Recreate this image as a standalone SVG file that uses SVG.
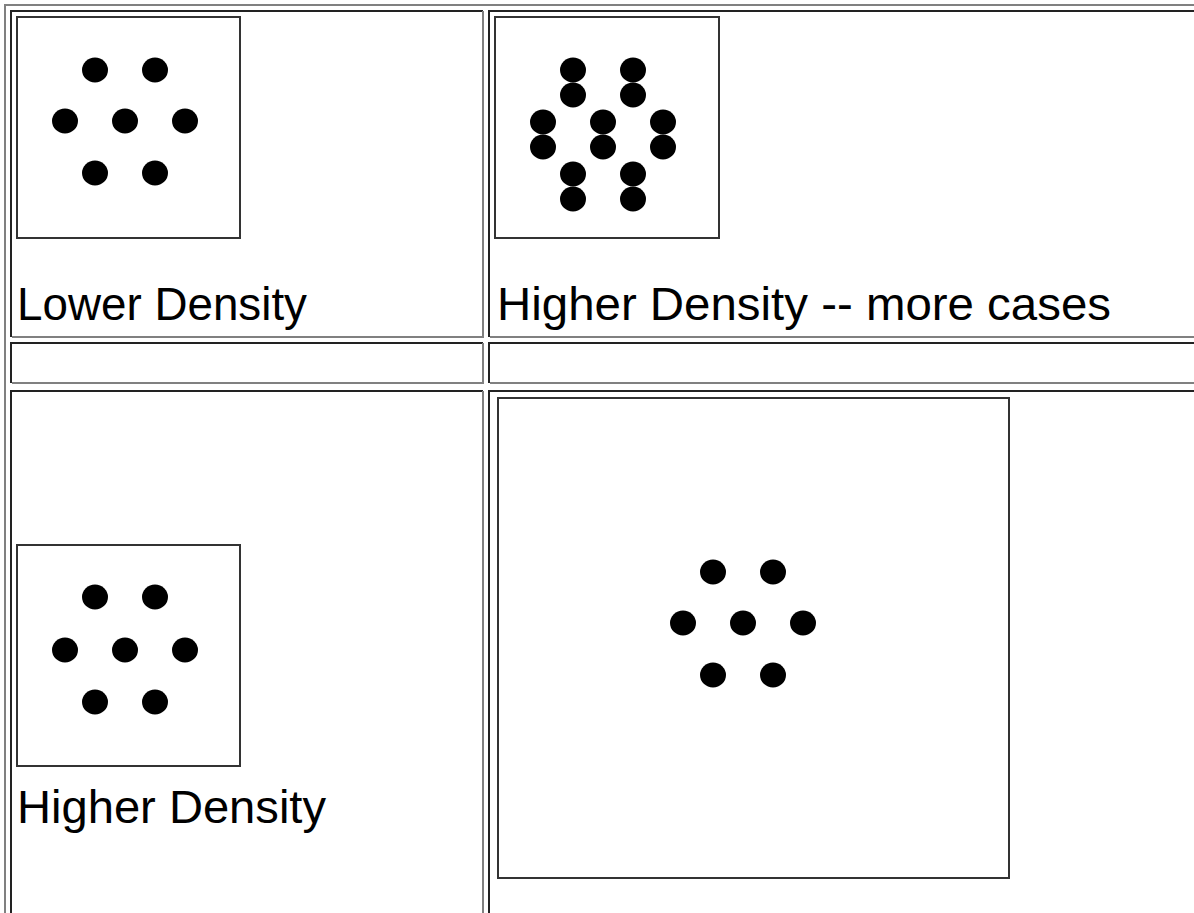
<svg xmlns="http://www.w3.org/2000/svg" width="1194" height="913" viewBox="0 0 1194 913">
<style>
.dark{stroke:#222;stroke-width:2;fill:none}
.gray{stroke:#808080;stroke-width:2;fill:none}
.box{stroke:#333;stroke-width:2;fill:#fff}
.dot{fill:#000}
.lbl{font-family:"Liberation Sans",Arial,sans-serif;font-size:47px;fill:#000}
</style>
<rect width="1194" height="913" fill="#fff"/>
<g id="table">
<path class="gray" d="M5,913 V5 H1194"/>
<g id="cell-r1c1"><path class="dark" d="M11,337 V11 H483"/><path class="gray" d="M12,337 H483 V11"/></g>
<g id="cell-r1c2"><path class="dark" d="M489,337 V11 H1194"/><path class="gray" d="M490,337 H1194"/></g>
<g id="cell-r2c1"><path class="dark" d="M11,383 V343 H483"/><path class="gray" d="M12,383 H483 V343"/></g>
<g id="cell-r2c2"><path class="dark" d="M489,383 V343 H1194"/><path class="gray" d="M490,383 H1194"/></g>
<g id="cell-r3c1"><path class="dark" d="M11,913 V391 H483"/><path class="gray" d="M483,391 V913"/></g>
<g id="cell-r3c2"><path class="dark" d="M489,913 V391 H1194"/></g>
</g>
<g id="lower-density">
<rect class="box" x="17" y="17" width="223" height="221"/>
<ellipse class="dot" cx="95" cy="70" rx="13" ry="12.5"/>
<ellipse class="dot" cx="155" cy="70" rx="13" ry="12.5"/>
<ellipse class="dot" cx="65" cy="121" rx="13" ry="12.5"/>
<ellipse class="dot" cx="125" cy="121" rx="13" ry="12.5"/>
<ellipse class="dot" cx="185" cy="121" rx="13" ry="12.5"/>
<ellipse class="dot" cx="95" cy="173" rx="13" ry="12.5"/>
<ellipse class="dot" cx="155" cy="173" rx="13" ry="12.5"/>
<text class="lbl" x="17" y="320" textLength="290" lengthAdjust="spacingAndGlyphs">Lower Density</text>
</g>
<g id="higher-density-more-cases">
<rect class="box" x="495" y="17" width="224" height="221"/>
<ellipse class="dot" cx="573" cy="70" rx="13" ry="12.5"/>
<ellipse class="dot" cx="633" cy="70" rx="13" ry="12.5"/>
<ellipse class="dot" cx="573" cy="95" rx="13" ry="12.5"/>
<ellipse class="dot" cx="633" cy="95" rx="13" ry="12.5"/>
<ellipse class="dot" cx="543" cy="122" rx="13" ry="12.5"/>
<ellipse class="dot" cx="603" cy="122" rx="13" ry="12.5"/>
<ellipse class="dot" cx="663" cy="122" rx="13" ry="12.5"/>
<ellipse class="dot" cx="543" cy="147" rx="13" ry="12.5"/>
<ellipse class="dot" cx="603" cy="147" rx="13" ry="12.5"/>
<ellipse class="dot" cx="663" cy="147" rx="13" ry="12.5"/>
<ellipse class="dot" cx="573" cy="174" rx="13" ry="12.5"/>
<ellipse class="dot" cx="633" cy="174" rx="13" ry="12.5"/>
<ellipse class="dot" cx="573" cy="199" rx="13" ry="12.5"/>
<ellipse class="dot" cx="633" cy="199" rx="13" ry="12.5"/>
<text class="lbl" x="497" y="320" textLength="614" lengthAdjust="spacingAndGlyphs">Higher Density -- more cases</text>
</g>
<g id="higher-density">
<rect class="box" x="17" y="545" width="223" height="221"/>
<ellipse class="dot" cx="95" cy="597" rx="13" ry="12.5"/>
<ellipse class="dot" cx="155" cy="597" rx="13" ry="12.5"/>
<ellipse class="dot" cx="65" cy="650" rx="13" ry="12.5"/>
<ellipse class="dot" cx="125" cy="650" rx="13" ry="12.5"/>
<ellipse class="dot" cx="185" cy="650" rx="13" ry="12.5"/>
<ellipse class="dot" cx="95" cy="702" rx="13" ry="12.5"/>
<ellipse class="dot" cx="155" cy="702" rx="13" ry="12.5"/>
<text class="lbl" x="17" y="823" textLength="309" lengthAdjust="spacingAndGlyphs">Higher Density</text>
</g>
<g id="larger-area">
<rect class="box" x="498" y="398" width="511" height="480"/>
<ellipse class="dot" cx="713" cy="572" rx="13" ry="12.5"/>
<ellipse class="dot" cx="773" cy="572" rx="13" ry="12.5"/>
<ellipse class="dot" cx="683" cy="623" rx="13" ry="12.5"/>
<ellipse class="dot" cx="743" cy="623" rx="13" ry="12.5"/>
<ellipse class="dot" cx="803" cy="623" rx="13" ry="12.5"/>
<ellipse class="dot" cx="713" cy="675" rx="13" ry="12.5"/>
<ellipse class="dot" cx="773" cy="675" rx="13" ry="12.5"/>
</g>
<g id="connectors"/>
</svg>
